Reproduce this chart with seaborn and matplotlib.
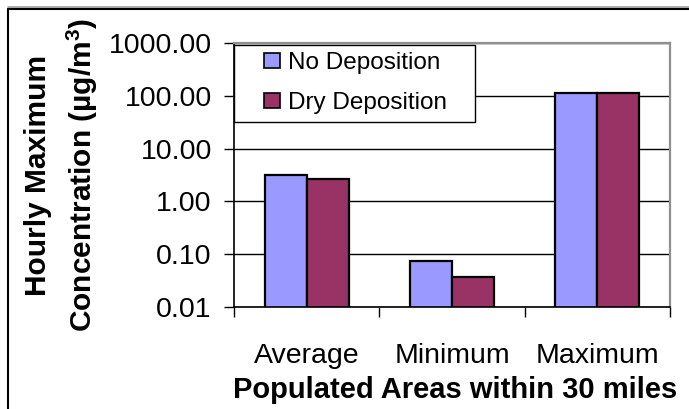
import matplotlib
matplotlib.use("Agg")
import matplotlib.pyplot as plt
from matplotlib.lines import Line2D
from matplotlib.patches import Rectangle
from matplotlib.ticker import FixedLocator, FuncFormatter, NullLocator
import pandas as pd
import seaborn as sns

# Populated areas within 30 miles: hourly maximum concentration (ug/m3)
areas = ["Average", "Minimum", "Maximum"]
no_deposition = [3.16, 0.074, 114.0]
dry_deposition = [2.62, 0.037, 114.0]
series_names = ["No Deposition", "Dry Deposition"]
ytick_values = [0.01, 0.1, 1, 10, 100, 1000]

df = pd.DataFrame({
    "area": areas * 2,
    "case": [series_names[0]] * len(areas) + [series_names[1]] * len(areas),
    "conc": no_deposition + dry_deposition,
})

sns.set_theme(style="white")
plt.rcParams["font.family"] = ["Liberation Sans", "DejaVu Sans"]
plt.rcParams["mathtext.fontset"] = "custom"
plt.rcParams["mathtext.rm"] = "Liberation Sans"
plt.rcParams["mathtext.bf"] = "Liberation Sans:bold"
for key in ("text.color", "axes.labelcolor", "xtick.color", "ytick.color"):
    plt.rcParams[key] = "black"

W, H = 689, 409
fig = plt.figure(figsize=(W / 100, H / 100), dpi=100)
ax_left, ax_right, ax_top, ax_bottom = 234, 670, 43.3, 306.7
ax = fig.add_axes([ax_left / W, 1 - ax_bottom / H, (ax_right - ax_left) / W,
                   (ax_bottom - ax_top) / H])


def px_to_axes(x, y):
    """Pixel position (from top-left of the figure) to axes fraction."""
    return ((x - ax_left) / (ax_right - ax_left), (ax_bottom - y) / (ax_bottom - ax_top))


ax.set_yscale("log")
ax.set_ylim(0.01, 1000)

sns.barplot(
    data=df, x="area", y="conc", hue="case", ax=ax,
    palette=["#9999FF", "#993366"], width=0.58, gap=0,
    edgecolor="black", linewidth=1.6, saturation=1, errorbar=None,
)
ax.set_xlim(-0.5, 2.5)
ax.set_ylim(0.01, 1000)

# y axis: decades with two-decimal labels, black gridlines
ax.yaxis.set_major_locator(FixedLocator(ytick_values))
ax.yaxis.set_minor_locator(NullLocator())
ax.yaxis.set_major_formatter(FuncFormatter(lambda v, p: f"{v:.2f}"))
ax.grid(axis="y", color="black", linewidth=1.0)
ax.set_axisbelow(True)
ax.tick_params(axis="y", which="major", direction="out", length=7, width=1,
               color="black", pad=9, labelsize=20.5, left=True)

# x axis: tick marks between categories, labels centred below
ax.set_xticks(range(len(areas)))
ax.set_xticklabels(areas)
ax.xaxis.set_minor_locator(FixedLocator([-0.5, 0.5, 1.5, 2.5]))
ax.tick_params(axis="x", which="major", length=0, pad=26, labelsize=20.5)
ax.tick_params(axis="x", which="minor", direction="out", length=7.5, width=1,
               color="black", bottom=True)

for side in ("left", "bottom"):
    ax.spines[side].set_color("black")
    ax.spines[side].set_linewidth(1.2)
for side in ("top", "right"):
    ax.spines[side].set_color("#909090")
    ax.spines[side].set_linewidth(1.6)

ax.set_xlabel("")
ax.set_ylabel("")

# legend box (white, covering the gridlines) with the entries inside it
x0, y0 = px_to_axes(234, 122)
x1, y1 = px_to_axes(475, 45)
ax.add_patch(Rectangle((x0, y0), x1 - x0, y1 - y0, transform=ax.transAxes,
                       facecolor="white", edgecolor="black", linewidth=1.0,
                       zorder=4, clip_on=False))
lx, ly = px_to_axes(264, 83)
leg = ax.legend(
    loc="center left", bbox_to_anchor=(lx, ly), frameon=False,
    fontsize=17.5, handlelength=0.65, handleheight=0.6, handletextpad=0.35,
    labelspacing=0.75, borderpad=0, borderaxespad=0, title=None,
)
leg.set_zorder(5)
for h in leg.legend_handles:
    h.set_edgecolor("black")
    h.set_linewidth(1.2)

# axis titles
fig.text(62 / W, 1 - 175 / H, "Hourly Maximum\nConcentration (µg/m$^{\\mathbf{3}}$)",
         rotation=90, ha="center", va="center", multialignment="center",
         fontsize=21.5, fontweight="bold", linespacing=1.42)
fig.text(455 / W, 1 - 390 / H, "Populated Areas within 30 miles",
         ha="center", va="center", fontsize=21, fontweight="bold")

# outer chart frame
fig.add_artist(Line2D([7.5 / W, 1], [1 - 7 / H, 1 - 7 / H], transform=fig.transFigure,
                      color="#a0a0a0", linewidth=1.2))
fig.add_artist(Line2D([8 / W, 1], [1 - 9 / H, 1 - 9 / H], transform=fig.transFigure,
                      color="black", linewidth=1.5))
fig.add_artist(Line2D([8 / W, 8 / W], [0, 1 - 9 / H], transform=fig.transFigure,
                      color="black", linewidth=1.5))

fig.savefig("out.png", dpi=100)
